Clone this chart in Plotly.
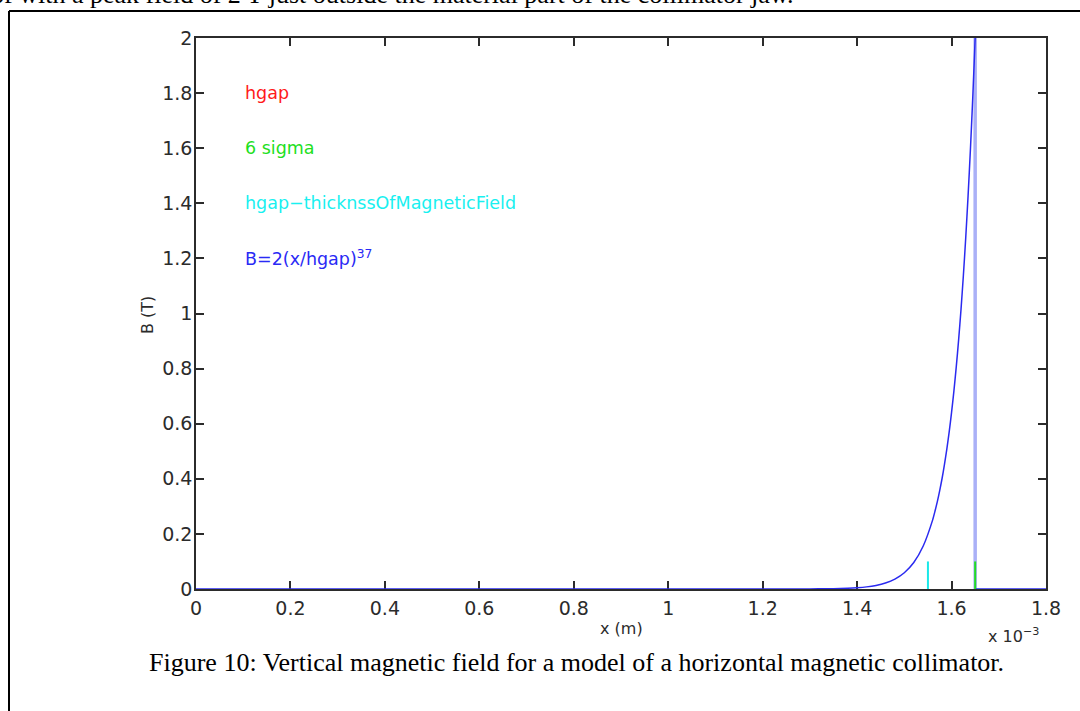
import plotly.graph_objects as go

# Field profile B(x): x in units of 1e-3 m, B in tesla
x_mm = [0.0, 1.30, 1.35, 1.38, 1.40, 1.42, 1.44, 1.46, 1.48, 1.50, 1.52, 1.54,
        1.56, 1.565, 1.57, 1.575, 1.58, 1.585, 1.59, 1.595, 1.60, 1.605, 1.61,
        1.615, 1.62, 1.625, 1.63, 1.635, 1.64, 1.645, 1.65]
b_tesla = [0.0, 0.0003, 0.0012, 0.0027, 0.0046, 0.0077, 0.013, 0.0217, 0.036,
           0.059, 0.096, 0.156, 0.251, 0.283, 0.318, 0.358, 0.402, 0.452, 0.508,
           0.570, 0.641, 0.719, 0.807, 0.905, 1.014, 1.137, 1.274, 1.427, 1.597,
           1.788, 2.0]

# field is zero beyond the gap edge
x_tail_mm = [1.65, 1.80]
b_tail = [0.0, 0.0]

# marker positions (units of 1e-3 m) and their heights (T)
hgap_mm = 1.65
hgap_height = [0.0, 2.0]
six_sigma_mm = 1.65
six_sigma_height = [0.0, 0.1]
inner_edge_mm = 1.55
inner_edge_height = [0.0, 0.1]

x_ticks_mm = [0, 0.2, 0.4, 0.6, 0.8, 1.0, 1.2, 1.4, 1.6, 1.8]
x_tick_text = ["0", "0.2", "0.4", "0.6", "0.8", "1", "1.2", "1.4", "1.6", "1.8"]
y_ticks = [0, 0.2, 0.4, 0.6, 0.8, 1.0, 1.2, 1.4, 1.6, 1.8, 2.0]
y_tick_text = ["0", "0.2", "0.4", "0.6", "0.8", "1", "1.2", "1.4", "1.6", "1.8", "2"]

legend_labels = ["hgap", "6 sigma", "hgap\u2212thicknssOfMagneticField",
                 "B=2(x/hgap)<sup>37</sup>"]
legend_colors = ["#ff1a1a", "#1ee01e", "#19f0f0", "#2a2af5"]
legend_y = [1.8, 1.6, 1.4, 1.2]
legend_x_mm = 0.1

SCALE = 1e-3
W, H = 1080, 711
L, R, T, B = 196, 34, 38, 122
PW, PH = W - L - R, H - T - B


def px(xp):
    return (xp - L) / PW


def py(yp):
    return (T + PH - yp) / PH


fig = go.Figure()

fig.add_trace(go.Scatter(x=[hgap_mm * SCALE] * 2, y=hgap_height, mode="lines",
                         line=dict(color="#aab0f7", width=3.5), hoverinfo="skip"))
fig.add_trace(go.Scatter(x=[v * SCALE for v in x_mm], y=b_tesla, mode="lines",
                         line=dict(color="#2a2af0", width=1.5, shape="spline",
                                   smoothing=0.6),
                         hoverinfo="skip"))
fig.add_trace(go.Scatter(x=[v * SCALE for v in x_tail_mm], y=b_tail, mode="lines",
                         line=dict(color="#2a2af0", width=1.5), hoverinfo="skip"))
fig.add_trace(go.Scatter(x=[inner_edge_mm * SCALE] * 2, y=inner_edge_height,
                         mode="lines", line=dict(color="#19e8e8", width=2),
                         hoverinfo="skip"))
fig.add_trace(go.Scatter(x=[six_sigma_mm * SCALE] * 2, y=six_sigma_height,
                         mode="lines", line=dict(color="#22dd22", width=2),
                         hoverinfo="skip"))

tick_font = dict(family="DejaVu Sans", size=19, color="#2b2b2b")

fig.update_xaxes(range=[0, 1.8 * SCALE], tickvals=[v * SCALE for v in x_ticks_mm],
                 ticktext=x_tick_text, ticks="inside", ticklen=8, tickwidth=1.5,
                 tickcolor="#2b2b2b", showline=True, linecolor="#2b2b2b",
                 linewidth=1.5, mirror="ticks", showgrid=False, zeroline=False,
                 tickfont=tick_font, layer="below traces", fixedrange=True,
                 ticklabelstandoff=1)
fig.update_yaxes(range=[0, 2], tickvals=y_ticks, ticktext=y_tick_text,
                 ticks="inside", ticklen=8, tickwidth=1.5, tickcolor="#2b2b2b",
                 showline=True, linecolor="#2b2b2b", linewidth=1.5, mirror="ticks",
                 showgrid=False, zeroline=False, tickfont=tick_font,
                 layer="below traces", fixedrange=True, ticklabelstandoff=-2)

annotations = []
for label, color, yv in zip(legend_labels, legend_colors, legend_y):
    annotations.append(dict(x=legend_x_mm * SCALE, y=yv, xref="x", yref="y",
                            text=label, showarrow=False, xanchor="left",
                            yanchor="middle",
                            font=dict(family="DejaVu Sans", size=17.5, color=color)))

axis_font = dict(family="DejaVu Sans", size=16, color="#2b2b2b")
annotations += [
    dict(x=px(621), y=py(628), xref="paper", yref="paper", text="x (m)",
         showarrow=False, xanchor="center", yanchor="middle", font=axis_font),
    dict(x=px(147), y=py(315), xref="paper", yref="paper", text="B (T)",
         showarrow=False, xanchor="center", yanchor="middle", textangle=-90,
         font=axis_font),
    dict(x=px(1013), y=py(635), xref="paper", yref="paper",
         text="x 10<sup>\u22123</sup>", showarrow=False, xanchor="center",
         yanchor="middle", font=axis_font),
    dict(x=px(576), y=py(662), xref="paper", yref="paper",
         text="Figure 10: Vertical magnetic field for a model of a horizontal "
              "magnetic collimator.",
         showarrow=False, xanchor="center", yanchor="middle",
         font=dict(family="Liberation Serif", size=26, color="#000000")),
    dict(x=px(795), y=py(-5), xref="paper", yref="paper",
         text="of with a peak field of 2 T just outside the material part of "
              "the collimator jaw.",
         showarrow=False, xanchor="right", yanchor="middle",
         font=dict(family="Liberation Serif", size=26, color="#000000")),
]

shapes = [
    dict(type="line", xref="paper", yref="paper", x0=px(9), x1=px(1085),
         y0=py(11), y1=py(11), line=dict(color="#000000", width=2)),
    dict(type="line", xref="paper", yref="paper", x0=px(9), x1=px(9),
         y0=py(11), y1=py(715), line=dict(color="#000000", width=2)),
]

fig.update_layout(width=W, height=H, margin=dict(l=L, r=R, t=T, b=B, pad=0),
                  paper_bgcolor="white", plot_bgcolor="white", showlegend=False,
                  annotations=annotations, shapes=shapes)

fig.write_html("out.html", config={"displayModeBar": False})
